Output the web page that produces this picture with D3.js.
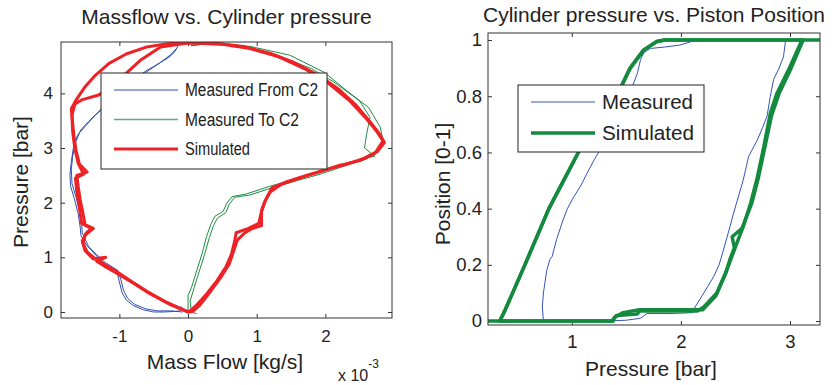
<!DOCTYPE html>
<html>
<head>
<meta charset="utf-8">
<script src="https://cdn.jsdelivr.net/npm/d3@7"></script>
<style>
  body { margin: 0; background: #fff; }
  text { font-family: "Liberation Sans", Arial, sans-serif; fill: #222; }
</style>
</head>
<body>
<svg width="834" height="385"></svg>
<script>
// ---- left panel: mass flow [1e-3 kg/s] vs cylinder pressure [bar] ----
const flowTicks = [-1, 0, 1, 2];
const pressTicks = [0, 1, 2, 3, 4];

const measFromA = [[-0.05,0],[-0.1,0.1],[-0.12,0.02],[-0.2,0.01],[-0.35,0.0],[-0.5,0.0],[-0.65,0.04],[-0.8,0.12],[-0.9,0.22],[-0.96,0.35],[-1.0,0.55],[-1.03,0.72],[-1.15,0.82],[-1.3,0.98],[-1.42,1.15],[-1.48,1.22],[-1.56,1.4],[-1.57,1.55],[-1.6,1.8],[-1.65,2.05],[-1.71,2.3],[-1.72,2.5],[-1.7,2.75],[-1.67,3.0],[-1.62,3.2],[-1.55,3.35],[-1.45,3.48],[-1.35,3.6],[-1.2,3.8],[-1.0,4.05],[-0.8,4.25],[-0.6,4.42],[-0.42,4.55],[-0.28,4.66],[-0.2,4.75],[-0.15,4.86]];
const measFromB = [[-0.08,0.0],[-0.25,0.02],[-0.45,0.02],[-0.62,0.06],[-0.78,0.14],[-0.88,0.25],[-0.94,0.4],[-0.98,0.6],[-1.02,0.76],[-1.2,0.9],[-1.33,1.05],[-1.45,1.2],[-1.54,1.45],[-1.55,1.6],[-1.58,1.85],[-1.63,2.1],[-1.69,2.35],[-1.7,2.6],[-1.68,2.85],[-1.64,3.1],[-1.58,3.28],[-1.48,3.42],[-1.38,3.57],[-1.22,3.75],[-1.02,4.0],[-0.82,4.2],[-0.62,4.38],[-0.41,4.56],[-0.26,4.7],[-0.16,4.83]];

const measToA = [[0.12,-0.03],[0.05,0],[0,0],[0,0.3],[0.05,0.45],[0.13,0.77],[0.2,1.05],[0.27,1.38],[0.33,1.6],[0.39,1.75],[0.51,1.84],[0.56,1.98],[0.64,2.11],[0.85,2.16],[1.19,2.3],[1.53,2.42],[1.87,2.54],[2.3,2.72],[2.6,2.82],[2.72,2.85],[2.57,3.0],[2.6,3.25],[2.65,3.56],[2.5,3.86],[2.11,4.22],[1.8,4.45],[1.4,4.65],[0.95,4.82],[0.6,4.88],[0.2,4.9],[0.05,4.87]];
const measToB = [[0.05,0],[0.03,0.2],[0.09,0.45],[0.17,0.77],[0.24,1.05],[0.31,1.36],[0.37,1.58],[0.43,1.72],[0.55,1.82],[0.6,1.97],[0.68,2.1],[0.9,2.14],[1.24,2.28],[1.58,2.4],[1.92,2.52],[2.3,2.68],[2.6,2.8],[2.75,2.92],[2.84,3.13],[2.8,3.38],[2.63,3.74],[2.31,4.05],[1.99,4.38],[1.48,4.7],[0.9,4.86],[0.4,4.92],[0.05,4.88]];

const simFlowA = [[0,0],[-0.3,0.17],[-0.6,0.38],[-0.85,0.58],[-1.03,0.73],[-1.2,0.86],[-1.35,0.97],[-1.47,1.1],[-1.53,1.25],[-1.5,1.4],[-1.38,1.53],[-1.5,1.6],[-1.53,1.8],[-1.57,2.05],[-1.6,2.3],[-1.62,2.5],[-1.47,2.56],[-1.58,2.7],[-1.63,2.95],[-1.66,3.2],[-1.68,3.45],[-1.7,3.72],[-1.62,3.9],[-1.5,4.12],[-1.35,4.33],[-1.15,4.55],[-0.9,4.72],[-0.6,4.85],[-0.3,4.91],[0,4.93],[0.4,4.92],[0.8,4.86],[1.2,4.73],[1.55,4.56],[1.9,4.33],[2.2,4.07],[2.45,3.78],[2.65,3.48],[2.78,3.27],[2.86,3.1],[2.76,2.94],[2.56,2.81],[2.3,2.7],[2.0,2.6],[1.7,2.49],[1.45,2.39],[1.22,2.27],[1.15,2.1],[1.08,1.9],[1.03,1.62],[0.88,1.53],[0.7,1.45],[0.68,1.3],[0.63,1.05],[0.55,0.82],[0.42,0.57],[0.27,0.33],[0.12,0.12],[0.03,0.02],[0,0]];
const simFlowB = [[0,0],[-0.25,0.13],[-0.55,0.33],[-0.8,0.53],[-1.05,0.72],[-1.22,0.84],[-1.33,0.93],[-1.2,1.0],[-1.38,0.97],[-1.5,1.12],[-1.54,1.3],[-1.48,1.45],[-1.41,1.53],[-1.55,1.62],[-1.58,1.9],[-1.62,2.2],[-1.64,2.45],[-1.52,2.52],[-1.6,2.72],[-1.65,3.0],[-1.68,3.3],[-1.69,3.6],[-1.65,3.8],[-1.55,3.88],[-1.3,3.97],[-1.0,4.25],[-0.7,4.6],[-0.4,4.85],[0,4.92],[0.5,4.9],[0.9,4.82],[1.3,4.68],[1.7,4.45],[2.05,4.18],[2.35,3.87],[2.58,3.56],[2.75,3.3],[2.84,3.13],[2.72,2.9],[2.5,2.77],[2.2,2.68],[1.9,2.56],[1.6,2.44],[1.35,2.33],[1.2,2.2],[1.12,2.03],[1.07,1.83],[1.07,1.58],[0.92,1.52],[0.82,1.44],[0.72,1.32],[0.66,1.1],[0.6,0.88],[0.48,0.64],[0.33,0.38],[0.17,0.12],[0.07,0.01],[0,0]];

// ---- right panel: cylinder pressure [bar] vs piston position [0-1] ----
const barTicks = [1, 2, 3];
const posTicks = [0, 0.2, 0.4, 0.6, 0.8, 1];

const measPos = [[0.24,0],[0.74,0],[0.73,0.05],[0.74,0.1],[0.77,0.18],[0.8,0.22],[0.82,0.23],[0.86,0.29],[0.92,0.36],[0.96,0.4],[1.015,0.44],[1.08,0.48],[1.14,0.526],[1.2,0.57],[1.26,0.61],[1.34,0.66],[1.41,0.70],[1.48,0.76],[1.535,0.81],[1.57,0.85],[1.6,0.88],[1.63,0.93],[1.66,0.955],[1.72,0.97],[1.85,0.975],[1.99,0.982],[2.1,0.995],[2.2,1],[2.96,1],[2.94,0.94],[2.9,0.9],[2.85,0.86],[2.82,0.8],[2.79,0.73],[2.75,0.69],[2.7,0.644],[2.62,0.585],[2.6,0.55],[2.57,0.50],[2.51,0.42],[2.48,0.38],[2.45,0.336],[2.39,0.253],[2.35,0.2],[2.30,0.158],[2.21,0.1],[2.13,0.05],[2.11,0.03],[1.93,0.027],[1.69,0.027],[1.63,0.01],[1.5,0.003],[1.3,0],[0.74,0]];
const simPosA = [[0.23,0],[0.34,0],[0.39,0.04],[0.57,0.2],[0.79,0.4],[1.06,0.6],[1.22,0.7],[1.41,0.8],[1.535,0.9],[1.66,0.965],[1.78,0.995],[1.85,1],[3.275,1],[3.11,1],[3.0,0.905],[2.88,0.81],[2.82,0.74],[2.76,0.62],[2.70,0.51],[2.64,0.42],[2.57,0.335],[2.5,0.264],[2.42,0.18],[2.33,0.1],[2.21,0.05],[2.15,0.036],[1.62,0.036],[1.6,0.025],[1.41,0.02],[1.367,0],[0.34,0]];
const simPosB = [[0.34,0],[0.39,0.04],[0.57,0.2],[0.79,0.4],[1.06,0.6],[1.22,0.7],[1.41,0.8],[1.535,0.9],[1.66,0.965],[1.78,0.995],[1.85,1],[3.12,1],[3.01,0.9],[2.9,0.81],[2.83,0.73],[2.77,0.62],[2.71,0.51],[2.65,0.42],[2.6,0.37],[2.56,0.33],[2.47,0.3],[2.49,0.26],[2.45,0.22],[2.41,0.17],[2.32,0.09],[2.2,0.04],[1.62,0.04],[1.47,0.03],[1.39,0.013],[1.38,0],[0.34,0]];

const svg = d3.select('svg');
svg.append('rect').attr('width', 834).attr('height', 385).attr('fill', '#fff');

function drawPanel(p) {
    const x = d3.scaleLinear().domain(p.xDomain).range(p.xRange);
    const y = d3.scaleLinear().domain(p.yDomain).range(p.yRange);
    const [x0, x1] = p.xRange, [y0, y1] = p.yRange;
    const fmt = d => String(d);   // plain "-1", "0.2", "1" like the original
    const g = svg.append('g');

    g.append('clipPath').attr('id', p.id + '-clip')
        .append('rect').attr('x', x0).attr('y', y1).attr('width', x1 - x0).attr('height', y0 - y1);

    const axes = [
        [d3.axisBottom(x).tickValues(p.xTicks).tickFormat(fmt).tickPadding(p.xPad), `translate(0,${y0})`],
        [d3.axisTop(x).tickValues(p.xTicks).tickFormat(''), `translate(0,${y1})`],
        [d3.axisLeft(y).tickValues(p.yTicks).tickFormat(fmt).tickPadding(p.yPad), `translate(${x0},0)`],
        [d3.axisRight(y).tickValues(p.yTicks).tickFormat(''), `translate(${x1},0)`]
    ];
    axes.forEach(([ax, tr]) => {
        const a = g.append('g').attr('transform', tr).call(ax.tickSizeInner(-4).tickSizeOuter(0));
        a.select('.domain').remove();
        a.selectAll('line').attr('stroke', '#333');
        a.selectAll('text').attr('font-size', p.tickSize).attr('fill', '#222')
            .style('font-family', '"Liberation Sans", Arial, sans-serif');
    });

    const line = d3.line().x(d => x(d[0])).y(d => y(d[1]));
    const plot = g.append('g').attr('clip-path', `url(#${p.id}-clip)`);
    p.series.forEach(s => {
        s.data.forEach(arr => {
            plot.append('path').attr('d', line(arr)).attr('fill', 'none')
                .attr('stroke', s.color).attr('stroke-width', s.width)
                .attr('stroke-linejoin', 'round').attr('stroke-linecap', 'round');
        });
    });

    g.append('rect').attr('x', x0).attr('y', y1).attr('width', x1 - x0).attr('height', y0 - y1)
        .attr('fill', 'none').attr('stroke', '#333').attr('stroke-width', 1);

    // legend
    const L = p.legend;
    g.append('rect').attr('x', L.x).attr('y', L.y).attr('width', L.w).attr('height', L.h)
        .attr('fill', '#fff').attr('stroke', '#222').attr('stroke-width', 1);
    p.series.forEach((s, i) => {
        const ly = L.y + L.first + i * L.step;
        g.append('line').attr('x1', L.x + 13).attr('x2', L.x + 77).attr('y1', ly).attr('y2', ly)
            .attr('stroke', s.legendColor || s.color).attr('stroke-width', s.legendWidth || s.width);
        g.append('text').attr('x', L.x + 84).attr('y', ly + L.font * 0.36)
            .attr('font-size', L.font).attr('textLength', s.textLen).attr('lengthAdjust', 'spacingAndGlyphs')
            .text(s.name);
    });

    g.append('text').attr('x', (x0 + x1) / 2).attr('y', p.titleY).attr('text-anchor', 'middle')
        .attr('font-size', 21).text(p.title);
    g.append('text').attr('x', p.xLabelX).attr('y', p.xLabelY).attr('text-anchor', 'middle')
        .attr('font-size', 21).text(p.xLabel);
    g.append('text').attr('transform', `translate(${p.yLabelX},${p.yLabelY}) rotate(-90)`)
        .attr('text-anchor', 'middle').attr('font-size', 21).text(p.yLabel);
    return g;
}

drawPanel({
    id: 'flow',
    xDomain: [-1.85, 2.97], xRange: [61, 392],
    yDomain: [-0.11, 4.94], yRange: [318, 42],
    xTicks: flowTicks, yTicks: pressTicks, tickSize: 17, xPad: 12, yPad: 8,
    title: 'Massflow vs. Cylinder pressure', titleY: 24,
    xLabel: 'Mass Flow [kg/s]', xLabelX: 225, xLabelY: 369,
    yLabel: 'Pressure [bar]', yLabelX: 28, yLabelY: 182,
    series: [
        { name: 'Measured From C2', data: [measFromA, measFromB], color: '#2f4fb0', width: 1, textLen: 133 },
        { name: 'Measured To C2', data: [measToA, measToB], color: '#1f8c45', legendColor: '#5cae78', legendWidth: 1.6, width: 1, textLen: 114 },
        { name: 'Simulated', data: [simFlowA, simFlowB], color: '#ee2226', width: 3, textLen: 65 }
    ],
    legend: { x: 101, y: 73, w: 226, h: 96, first: 17, step: 29.5, font: 18 }
}).append('text').attr('x', 338).attr('y', 381).attr('font-size', 16)
    .call(t => t.append('tspan').text('x 10'))
    .call(t => t.append('tspan').attr('dy', -13).attr('font-size', 12).text('-3'));

drawPanel({
    id: 'pos',
    xDomain: [0.232, 3.275], xRange: [488, 820],
    yDomain: [-0.014, 1.025], yRange: [325, 33],
    xTicks: barTicks, yTicks: posTicks, tickSize: 18.5, xPad: 10, yPad: 6,
    title: 'Cylinder pressure vs. Piston Position', titleY: 22,
    xLabel: 'Pressure [bar]', xLabelX: 651, xLabelY: 376,
    yLabel: 'Position [0-1]', yLabelX: 450, yLabelY: 184,
    series: [
        { name: 'Measured', data: [measPos], color: '#3454b8', width: 1, textLen: 91 },
        { name: 'Simulated', data: [simPosA, simPosB], color: '#138a3e', width: 3.5, textLen: 92 }
    ],
    legend: { x: 518, y: 85, w: 186, h: 67, first: 17, step: 31, font: 20.5 }
});
</script>
</body>
</html>
